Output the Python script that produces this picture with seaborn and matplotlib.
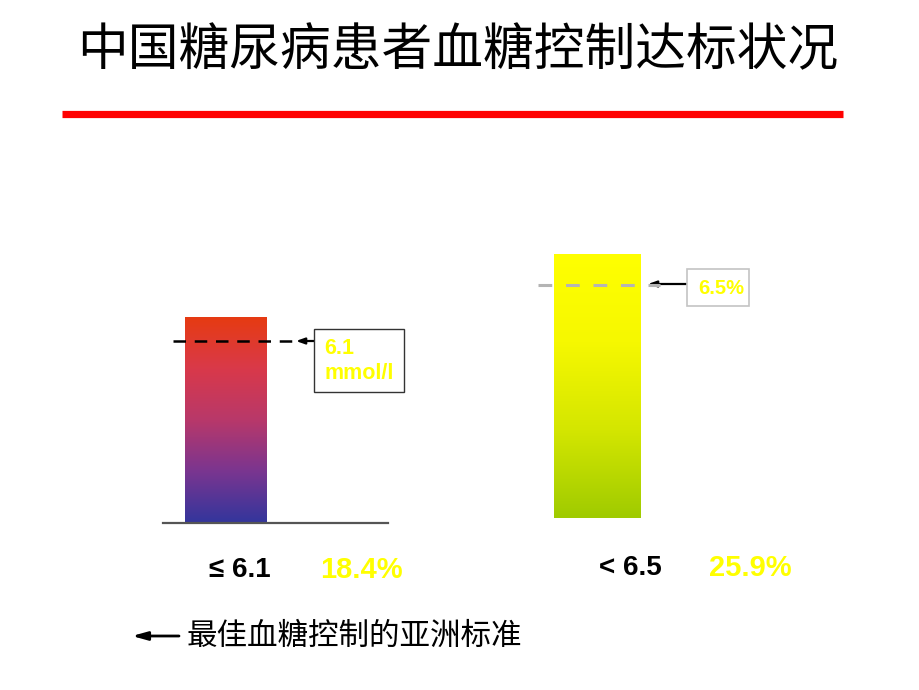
import numpy as np
import pandas as pd
import matplotlib
matplotlib.use("Agg")
import matplotlib.pyplot as plt
from matplotlib.colors import LinearSegmentedColormap
from matplotlib.patches import Rectangle
import seaborn as sns

# ---- data ----
title = "中国糖尿病患者血糖控制达标状况"
categories = ["≤ 6.1", "< 6.5"]
rates = [18.4, 25.9]              # % of patients reaching target
rate_labels = ["18.4%", "25.9%"]
target_boxes = ["6.1\nmmol/l", "6.5%"]
legend_text = "最佳血糖控制的亚洲标准"

sns.set_style("white")
CJK = ["Noto Sans CJK SC", "DejaVu Sans"]
LAT = ["Liberation Sans", "DejaVu Sans"]
plt.rcParams["font.family"] = CJK

W, H = 920, 690
fig = plt.figure(figsize=(W / 100, H / 100), dpi=100)
fig.patch.set_facecolor("white")


def fx(x):
    return x / W


def fy(y):
    return 1 - y / H


def gradient_bar(ax, colors):
    patch = ax.patches[0]
    x0, y0 = patch.get_x(), patch.get_y()
    w, h = patch.get_width(), patch.get_height()
    cmap = LinearSegmentedColormap.from_list("g", colors)
    grad = np.linspace(1, 0, 256).reshape(-1, 1)
    im = ax.imshow(grad, cmap=cmap, extent=(x0, x0 + w, y0, y0 + h),
                   aspect="auto", origin="upper", zorder=2,
                   interpolation="bicubic")
    im.set_clip_path(patch)
    patch.set_facecolor("none")
    patch.set_edgecolor("none")


# ---- left bar axes ----
axL_left, axL_right, axL_bottom, axL_h = 163, 388, 523, 250
axL = fig.add_axes([fx(axL_left), fy(axL_bottom), (axL_right - axL_left) / W, axL_h / H])
dfL = pd.DataFrame({"cat": [categories[0]], "rate": [rates[0]]})
sns.barplot(data=dfL, x="cat", y="rate", ax=axL, width=0.8)
gradient_bar(axL, ["#33369c", "#7a3590", "#b8386a", "#d9394a", "#e63b12"])
unit = 0.8 / 82
axL.set_xlim(-63 * unit, (225 - 63) * unit)
axL.set_ylim(0, rates[0] * axL_h / 206)
for s in ["top", "right", "left"]:
    axL.spines[s].set_visible(False)
axL.spines["bottom"].set_color("#555555")
axL.spines["bottom"].set_linewidth(1.6)
axL.set_xticks([]); axL.set_yticks([])
axL.set_xlabel(""); axL.set_ylabel("")
axL.patch.set_alpha(0)

# ---- right bar axes ----
axR_left, axR_right, axR_bottom, axR_h = 530, 760, 518, 300
axR = fig.add_axes([fx(axR_left), fy(axR_bottom), (axR_right - axR_left) / W, axR_h / H])
dfR = pd.DataFrame({"cat": [categories[1]], "rate": [rates[1]]})
sns.barplot(data=dfR, x="cat", y="rate", ax=axR, width=0.8)
gradient_bar(axR, ["#9fcb00", "#d4e600", "#f6f800", "#ffff00"])
unit = 0.8 / 87
axR.set_xlim(-67.5 * unit, (230 - 67.5) * unit)
axR.set_ylim(0, rates[1] * axR_h / 264)
for s in axR.spines.values():
    s.set_visible(False)
axR.set_xticks([]); axR.set_yticks([])
axR.set_xlabel(""); axR.set_ylabel("")
axR.patch.set_alpha(0)

# ---- title & red rule ----
fig.text(fx(458), fy(51), title, ha="center", va="center", fontsize=36.5,
         color="black", family=CJK)
fig.add_artist(plt.Line2D([fx(62), fx(843)], [fy(114), fy(114)],
                          color="#ff0000", linewidth=5.2, solid_capstyle="butt"))

# ---- threshold markers ----
fig.add_artist(plt.Line2D([fx(173), fx(300)], [fy(341), fy(341)], color="black",
                          linewidth=1.8, dashes=(5, 3.5), zorder=5))
fig.add_artist(plt.Line2D([fx(538), fx(660)], [fy(285), fy(285)], color="#b4b4b4",
                          linewidth=2.2, dashes=(4.5, 4.5), zorder=5))

fig.patches.append(Rectangle((fx(314), fy(392)), (404 - 314) / W, (392 - 329) / H,
                             transform=fig.transFigure, facecolor="white",
                             edgecolor="#333333", linewidth=1.0, zorder=4))
fig.patches.append(Rectangle((fx(687), fy(306)), (749 - 687) / W, (306 - 269) / H,
                             transform=fig.transFigure, facecolor="white",
                             edgecolor="#c4c4c4", linewidth=1.2, zorder=4))

arrowprops = dict(arrowstyle="-|>,head_length=0.5,head_width=0.18", color="black",
                  linewidth=1.6, shrinkA=0, shrinkB=0)
fig.add_artist(plt.Annotation("", xy=(fx(296), fy(341)), xytext=(fx(314), fy(341)),
                              xycoords="figure fraction", textcoords="figure fraction",
                              arrowprops=arrowprops))
fig.add_artist(plt.Annotation("", xy=(fx(648), fy(284)), xytext=(fx(686), fy(284)),
                              xycoords="figure fraction", textcoords="figure fraction",
                              arrowprops=arrowprops))

fig.text(fx(324), fy(361), target_boxes[0], ha="left", va="center", fontsize=15.5,
         fontweight="bold", color="#ffff00", family=LAT, linespacing=1.3, zorder=6)
fig.text(fx(721), fy(288), target_boxes[1], ha="center", va="center", fontsize=14.5,
         fontweight="bold", color="#ffff00", family=LAT, zorder=6)

# ---- category / rate labels ----
fig.text(fx(240), fy(570), categories[0], ha="center", va="center", fontsize=20,
         fontweight="bold", color="black", family=LAT)
fig.text(fx(361), fy(570), rate_labels[0], ha="center", va="center", fontsize=21,
         fontweight="bold", color="#ffff00", family=LAT)
fig.text(fx(630), fy(568), categories[1], ha="center", va="center", fontsize=20,
         fontweight="bold", color="black", family=LAT)
fig.text(fx(750), fy(568), rate_labels[1], ha="center", va="center", fontsize=21,
         fontweight="bold", color="#ffff00", family=LAT)

# ---- legend ----
fig.add_artist(plt.Annotation("", xy=(fx(132), fy(636)), xytext=(fx(179), fy(636)),
                              xycoords="figure fraction", textcoords="figure fraction",
                              arrowprops=dict(arrowstyle="-|>,head_length=0.9,head_width=0.25",
                                              color="black", linewidth=2.0,
                                              shrinkA=0, shrinkB=0)))
fig.text(fx(187), fy(636), legend_text, ha="left", va="center", fontsize=22,
         color="black", family=CJK)

fig.savefig("out.png", dpi=100)
